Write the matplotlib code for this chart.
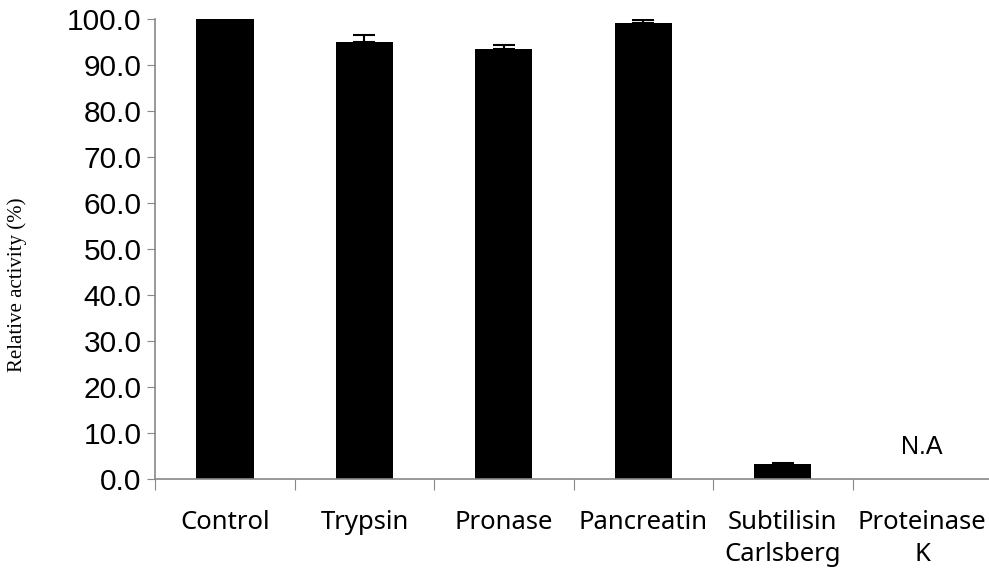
import numpy as np
import matplotlib
matplotlib.use("Agg")
import matplotlib.pyplot as plt

# values
categories = ["Control", "Trypsin", "Pronase", "Pancreatin",
              "Subtilisin\nCarlsberg", "Proteinase\nK"]
activity = [100.0, 95.0, 93.5, 99.0, 3.2, 0.0]
errors = [0.0, 1.5, 0.8, 0.8, 0.3, 0.0]
yticks = np.arange(0, 101, 10)

fig = plt.figure(figsize=(9.89, 5.71), dpi=100)
ax = fig.add_axes([0.157, 0.161, 0.846, 0.806])

x = np.arange(len(categories))
act = np.array(activity)
err = np.array(errors)
shown = act > 0
ax.bar(x[shown], act[shown], width=0.41, color="black", zorder=2)
has_err = err > 0
ax.errorbar(x[has_err], act[has_err], yerr=[np.zeros(has_err.sum()), err[has_err]],
            fmt="none", ecolor="black", elinewidth=1.5, capsize=8,
            capthick=1.5, zorder=3)

# N.A marker for the missing bar
ax.text(x[5], 7.0, "N.A", ha="center", va="center", fontsize=18,
        family="Liberation Sans")

ax.set_xlim(-0.5, 5.5)
ax.set_ylim(0, 100)
ax.set_yticks(yticks)
ax.set_yticklabels([f"{v:.1f}" for v in yticks], family="Liberation Sans",
                   fontsize=21.5)

# boundary ticks (major) and centred labels (minor)
ax.set_xticks(np.arange(-0.5, 5.6, 1.0))
ax.set_xticklabels([])
ax.set_xticks(x, minor=True)
ax.set_xticklabels(categories, minor=True, family="Noto Sans", fontsize=18.5,
                   linespacing=1.4)
ax.tick_params(axis="x", which="major", length=8, color="#888888")
ax.tick_params(axis="x", which="minor", length=0, pad=22)
ax.tick_params(axis="y", length=6, color="#888888", pad=4)

for s in ["top", "right"]:
    ax.spines[s].set_visible(False)
for s in ["left", "bottom"]:
    ax.spines[s].set_color("#888888")
    ax.spines[s].set_linewidth(1.2)

# y label sits a bit below the axis middle in the original
fig.text(17 / 989, 1 - 285 / 571, "Relative activity (%)", rotation=90,
         ha="center", va="center", family="Liberation Serif", fontsize=15)

fig.savefig("out.png", dpi=100)
